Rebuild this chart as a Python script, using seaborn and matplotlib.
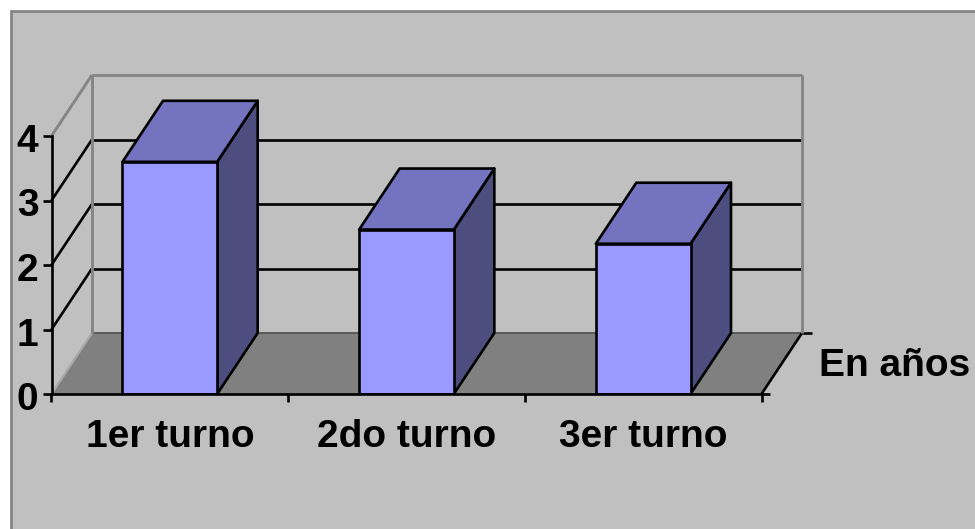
import matplotlib
matplotlib.use("Agg")
import matplotlib.pyplot as plt
from matplotlib.patches import Polygon, Rectangle
from matplotlib.transforms import ScaledTranslation
import pandas as pd
import seaborn as sns

# Average duration per shift, in years
turnos = ["1er turno", "2do turno", "3er turno"]
duracion = [3.6, 2.55, 2.33]
valores_eje = [0, 1, 2, 3, 4]
serie = "En años"

W, H = 975, 529
X0, X1 = 51.5, 761.5
Y0, Y4 = 394, 136
PX_X = (X1 - X0) / 3
PX_Y = (Y0 - Y4) / 4
DX = 40.5 / PX_X   # depth offset of the back plane, in data units
DY = 61 / PX_Y

FONDO, SUELO = "#C0C0C0", "#808080"
FRENTE, TAPA, LADO = "#9999FF", "#7373BF", "#4D4D80"
GRIS = "#858585"
LW = 1.9

sns.set_theme(style="white")
plt.rcParams["font.family"] = ["Liberation Sans", "DejaVu Sans"]

fig = plt.figure(figsize=(W / 100, H / 100), dpi=100, facecolor="white")
fig.add_artist(Rectangle((10.5 / W, -0.05), 1.1, 1.05 - 10.5 / H,
                         transform=fig.transFigure, facecolor=FONDO,
                         edgecolor=GRIS, linewidth=2.0, zorder=-1))

ax = fig.add_axes([X0 / W, 1 - Y0 / H, (X1 - X0) / W, (Y0 - Y4) / H])
ax.patch.set_visible(False)

df = pd.DataFrame({"turno": turnos, "anios": duracion})
sns.barplot(data=df, x="turno", y="anios", ax=ax, color=FRENTE, saturation=1,
            width=0.4, edgecolor="black", linewidth=LW, zorder=6)
ax.set_xlim(-0.5, 2.5)
ax.set_ylim(0, 4)
ax.set_xlabel("")
ax.set_ylabel("")

xa, xb = -0.5, 2.5


def poly(puntos, **kw):
    ax.add_patch(Polygon(puntos, closed=True, clip_on=False, **kw))


def linea(xs, ys, color="black", lw=LW, z=3):
    ax.plot(xs, ys, color=color, lw=lw, clip_on=False, zorder=z,
            solid_capstyle="butt")


# Floor and walls of the 3D box
poly([(xa, 0), (xa + DX, DY), (xb + DX, DY), (xb, 0)],
     facecolor=SUELO, edgecolor="none", zorder=1)
linea([xa + DX, xb + DX], [DY, DY], color="#5A5A5A", lw=1.4, z=2)
linea([xa, xa + DX], [0, DY], color="#A8A8A8", lw=1.6, z=2)
linea([xb, xb + DX], [0, DY], color="black", z=2)
linea([xb + DX, xb + DX + 10 / PX_X], [DY, DY], color="black", z=2)

# Gridlines on the back and side walls
for v in valores_eje[1:-1]:
    linea([xa + DX, xb + DX], [v + DY, v + DY])
    linea([xa, xa + DX], [v, v + DY])
linea([xa + DX, xb + DX], [4 + DY, 4 + DY], color=GRIS, lw=2.1)
linea([xa, xa + DX], [4, 4 + DY], color=GRIS, lw=2.1)
linea([xa + DX, xa + DX], [DY, 4 + DY], color=GRIS, lw=2.1)
linea([xb + DX, xb + DX], [DY, 4 + DY], color=GRIS, lw=2.1)

# Top and side faces of each column
for barra, v in zip(ax.patches, duracion):
    a = barra.get_x()
    b = a + barra.get_width()
    poly([(b, 0), (b + DX, DY), (b + DX, v + DY), (b, v)],
         facecolor=LADO, edgecolor="black", linewidth=LW, joinstyle="round", zorder=5)
    poly([(a, v), (a + DX, v + DY), (b + DX, v + DY), (b, v)],
         facecolor=TAPA, edgecolor="black", linewidth=LW, joinstyle="round", zorder=5)

# Axes, ticks and labels
for lado in ("top", "right"):
    ax.spines[lado].set_visible(False)
for lado in ("left", "bottom"):
    ax.spines[lado].set_color("black")
    ax.spines[lado].set_linewidth(LW)
    ax.spines[lado].set_zorder(7)

ax.set_yticks(valores_eje)
ax.set_yticklabels([str(v) for v in valores_eje], fontsize=28, fontweight="bold",
                   color="black")
ax.tick_params(axis="y", left=True, length=6.5, width=LW, color="black", pad=3)

# Nudge the value labels down a little so the digits sit centred on their ticks
baja = ScaledTranslation(0, -2 / 100, fig.dpi_scale_trans)
for etiqueta in ax.get_yticklabels():
    etiqueta.set_transform(etiqueta.get_transform() + baja)

ax.set_xticks(range(len(turnos)))
ax.set_xticklabels(turnos, fontsize=28, fontweight="bold", color="black")
ax.set_xticks([xa, xa + 1, xa + 2, xb], minor=True)
ax.tick_params(axis="x", which="major", bottom=False, length=0, pad=18)
ax.tick_params(axis="x", which="minor", bottom=True, length=6, width=LW, color="black")
linea([xb, xb + 8 / PX_X], [0, 0], z=7)

fig.text(819 / W, 1 - 366 / H, serie, fontsize=28, fontweight="bold",
         color="black", ha="left", va="center")

fig.savefig("out.png", dpi=100, facecolor="white")
